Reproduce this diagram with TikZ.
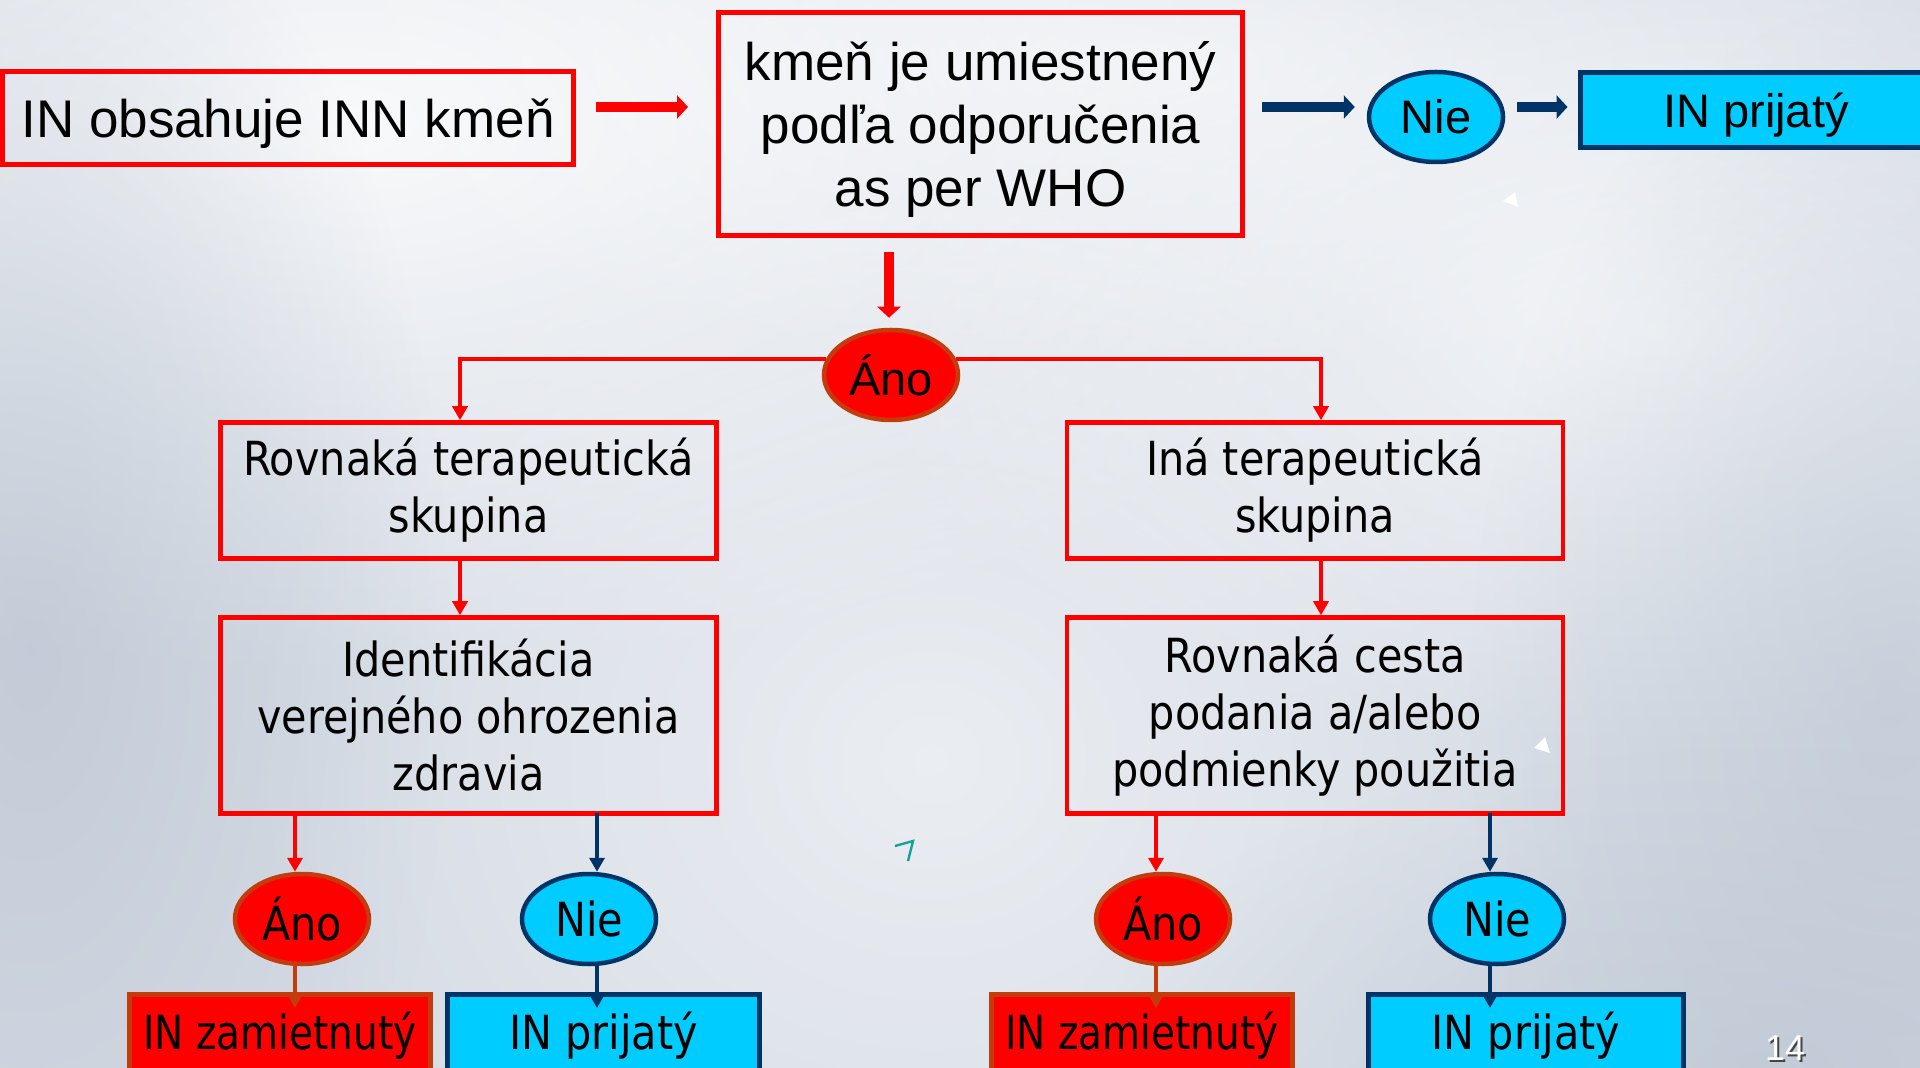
\documentclass[tikz,border=0pt]{standalone}
\usepackage{fontspec}
\setmainfont{Liberation Sans}
\newfontfamily\tahoma[FakeStretch=0.88]{DejaVu Sans}
\newfontfamily\tahomanarrow[FakeStretch=0.83]{DejaVu Sans}
\usetikzlibrary{arrows.meta,calc,fadings,shapes.geometric}
\tikzfading[name=softblob, inner color=transparent!0, outer color=transparent!100]
\definecolor{flowred}{RGB}{255,0,0}
\definecolor{rimred}{RGB}{196,60,12}
\definecolor{flowcyan}{RGB}{0,204,255}
\definecolor{flownavy}{RGB}{0,51,102}
\definecolor{bgbase}{RGB}{214,220,229}
\definecolor{bgdark}{RGB}{183,193,207}
\definecolor{markteal}{RGB}{23,163,152}
\definecolor{numshadow}{RGB}{70,70,70}

\begin{document}
\begin{tikzpicture}[x=0.5pt, y=-0.5pt,
    bigbox/.style={draw=flowred, line width=2.5pt, align=center, inner sep=0pt,
                   text depth=0pt, font=\fontsize{26.5}{31.5}\selectfont},
    qbox/.style={draw=flowred, line width=2.25pt, align=center, inner sep=0pt,
                 minimum width=248pt, font=\tahoma\fontsize{23.5}{28.5}\selectfont},
    ano/.style={ellipse, draw=rimred, fill=flowred, line width=2.25pt, inner sep=0pt,
                minimum width=67pt, minimum height=45pt, font=\fontsize{23.5}{28}\selectfont},
    nie/.style={ellipse, draw=flownavy, fill=flowcyan, line width=2.25pt, inner sep=0pt,
                minimum width=67pt, minimum height=45pt, font=\fontsize{23.5}{28}\selectfont},
    rej/.style={draw=rimred, fill=flowred, line width=2.5pt, inner sep=0pt,
                minimum width=150.5pt, minimum height=41.5pt,
                font=\tahomanarrow\fontsize{23.5}{28}\selectfont},
    acc/.style={draw=flownavy, fill=flowcyan, line width=2.5pt, inner sep=0pt,
                minimum height=41.5pt, font=\tahoma\fontsize{23.5}{28}\selectfont},
    lower/.style={font=\tahoma\fontsize{23.5}{28}\selectfont},
    bigarr/.style={line width=5pt, -{Triangle[length=5.5pt, width=11.5pt]}},
    thinarr/.style={line width=2pt, -{Triangle[length=7pt, width=7.5pt]}},
  ]
  \useasboundingbox (0,0) rectangle (1920,1068);
  \clip (0,0) rectangle (1920,1068);

  % background: pale pills
  \fill[bgbase] (0,0) rectangle (1920,1068);
  \fill[white, opacity=0.85, path fading=softblob] (350,120) ellipse [x radius=1100, y radius=560];
  \fill[white, opacity=0.6, path fading=softblob] (1150,60) ellipse [x radius=900, y radius=320];
  \fill[white, opacity=0.7, path fading=softblob] (1650,330) ellipse [x radius=800, y radius=420];
  \fill[white, opacity=0.5, path fading=softblob] (930,760) ellipse [x radius=700, y radius=620];
  \fill[bgdark, opacity=0.6, path fading=softblob] (30,650) ellipse [x radius=420, y radius=820];
  \fill[bgdark, opacity=0.5, path fading=softblob] (1890,700) ellipse [x radius=420, y radius=700];
  \fill[bgdark, opacity=0.5, path fading=softblob] (1760,1068) ellipse [x radius=700, y radius=320];

  % top row
  \node[bigbox, minimum width=285.5pt, minimum height=46.5pt] (inn) at (288,118) {IN obsahuje INN kmeň};
  \node[bigbox, minimum width=262pt, minimum height=111.5pt] (who) at (980.5,124)
    {kmeň je umiestnený\\podľa odporučenia\\as per WHO};
  \node[nie] (nie1) at (1436,117) {Nie};
  \node[acc, minimum width=176pt, minimum height=37.5pt, text depth=0pt,
        font=\fontsize{23.5}{28}\selectfont] (acc1) at (1756,110) {IN prijatý};
  \node[ano] (ano0) at (891,375) {Áno};

  % two branches
  \node[qbox, minimum height=68pt] (same) at (468.5,490.5) {Rovnaká terapeutická\\skupina};
  \node[qbox, minimum height=68pt] (other) at (1315,490.5) {Iná terapeutická\\skupina};
  \node[qbox, minimum height=98pt] (ident) at (468.5,715.5)
    {Identifikácia\\verejného ohrozenia\\zdravia};
  \node[qbox, minimum height=98pt] (route) at (1315,715.5)
    {Rovnaká cesta\\podania a/alebo\\podmienky použitia};

  % answers
  \node[ano, lower] (ano1) at (302,919) {Áno};
  \node[nie, lower] (nie2) at (589,919) {Nie};
  \node[ano, lower] (ano2) at (1163,919) {Áno};
  \node[nie, lower] (nie3) at (1497,919) {Nie};
  \node[rej] (rej1) at (280,1036) {IN zamietnutý};
  \node[acc, minimum width=156pt] (acc2) at (603.5,1036) {IN prijatý};
  \node[rej] (rej2) at (1142,1036) {IN zamietnutý};
  \node[acc, minimum width=157.5pt] (acc3) at (1526,1036) {IN prijatý};

  % block arrows
  \draw[bigarr, flowred] ($(inn.east)+(20,-11)$) -- ($(who.west)+(-28,-17)$);
  \draw[bigarr, flownavy] ($(who.east)+(17,-17)$) -- ($(nie1.west)+(-12,-10)$);
  \draw[bigarr, flownavy] ($(nie1.east)+(12,-10)$) -- ($(acc1.west)+(-10,-3)$);
  \draw[bigarr, flowred] ($(ano0.north |- who.south)+(-2,14)$) -- ($(ano0.north)+(-2,-10)$);

  % branch lines
  \draw[thinarr, flowred] (ano0.166) -| ($(same.north)+(-8.5,0)$);
  \draw[thinarr, flowred] (ano0.14) -| ($(other.north)+(6,0)$);
  \draw[thinarr, flowred] ($(same.south)+(-8.5,0)$) -- ($(ident.north)+(-8.5,0)$);
  \draw[thinarr, flowred] ($(other.south)+(6,0)$) -- ($(route.north)+(6,0)$);

  \draw[thinarr, flowred] ($(ano1.north |- ident.south)+(-7,0)$) -- ($(ano1.north)+(-7,0)$);
  \draw[thinarr, flownavy] ($(nie2.north |- ident.south)+(8,-3)$) -- ($(nie2.north)+(8,0)$);
  \draw[thinarr, flowred] ($(ano2.north |- route.south)+(-7,0)$) -- ($(ano2.north)+(-7,0)$);
  \draw[thinarr, flownavy] ($(nie3.north |- route.south)+(-7,-3)$) -- ($(nie3.north)+(-7,0)$);

  \draw[thinarr, rimred] ($(ano1.south)+(-7,0)$) -- ($(ano1.south |- rej1.north)+(-7,16)$);
  \draw[thinarr, flownavy] ($(nie2.south)+(8,0)$) -- ($(nie2.south |- acc2.north)+(8,16)$);
  \draw[thinarr, rimred] ($(ano2.south)+(-7,0)$) -- ($(ano2.south |- rej2.north)+(-7,16)$);
  \draw[thinarr, flownavy] ($(nie3.south)+(-7,0)$) -- ($(nie3.south |- acc3.north)+(-7,16)$);

  % stray marks and page number
  \fill[white] (1503,201) -- (1515,192) -- (1518,207) -- cycle;
  \fill[white] (1545,737) -- (1534,748) -- (1550,753) -- cycle;
  \draw[markteal, line width=1.2pt] (895,846) -- (913,841) -- (908,861);
  \node[text=numshadow, inner sep=0pt, font=\fontsize{18}{18}\selectfont] (pgshade) at (1787,1050) {14};
  \node[text=white, inner sep=0pt, font=\fontsize{18}{18}\selectfont] (pgnum) at (1785,1048) {14};
\end{tikzpicture}
\end{document}
